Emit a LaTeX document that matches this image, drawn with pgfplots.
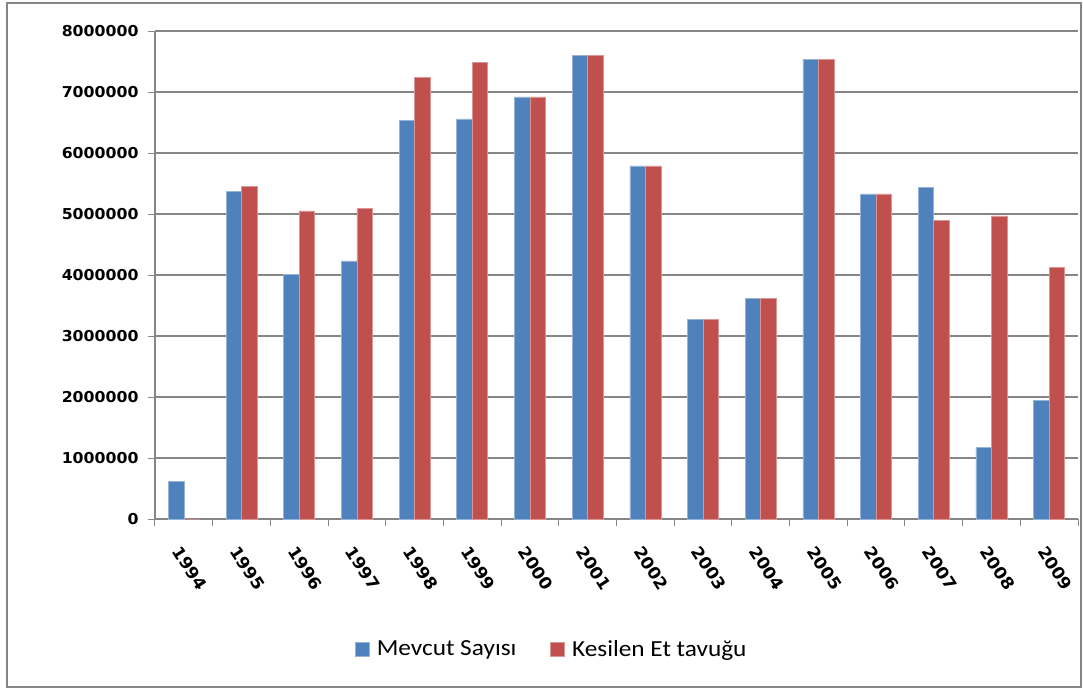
\documentclass[border=0pt]{standalone}
\usepackage{fontspec}
\setmainfont{Carlito}[FakeStretch=1.1]
\newfontfamily\tickfont{DejaVu Sans}[FakeStretch=1.05]
\usepackage{pgfplots}
\pgfplotsset{compat=1.18}
\definecolor{cblue}{RGB}{79,129,189}
\definecolor{cred}{RGB}{192,80,77}
\definecolor{gridgray}{RGB}{134,134,134}
\begin{document}
\begin{tikzpicture}
\begin{axis}[
  name=ax,
  scale only axis,
  width=923pt, height=488pt,
  ybar=0pt, bar width=15.5pt,
  xmin=-0.5, xmax=15.5,
  ymin=0, ymax=8000000,
  ytick={0,1000000,2000000,3000000,4000000,5000000,6000000,7000000,8000000},
  scaled y ticks=false,
  yticklabel={\pgfmathprintnumber[fixed,precision=0,1000 sep={}]{\tick}},
  /pgf/number format/assume math mode=true,
  xtick={0,...,15},
  xticklabels={1994,1995,1996,1997,1998,1999,2000,2001,2002,2003,2004,2005,2006,2007,2008,2009},
  minor xtick={-0.5,0.5,...,15.5},
  major x tick style={draw=none},
  minor x tick style={gridgray, line width=1pt},
  y tick style={gridgray, line width=1pt},
  tick align=outside,
  major tick length=7pt, minor tick length=7pt,
  axis x line*=bottom, axis y line*=left,
  axis line style={gridgray, line width=1.2pt},
  ymajorgrids, grid style={gridgray, line width=1.3pt},
  yticklabel style={font=\tickfont\bfseries\fontsize{15}{18}\selectfont, xshift=-6pt},
  xticklabel style={font=\tickfont\bfseries\fontsize{16.5}{19}\selectfont, xshift=-9pt, yshift=-19pt, rotate=-57, anchor=west},
  legend style={at={(0.43,-0.266)}, anchor=center, draw=none, legend columns=2,
    font=\fontsize{23}{26}\selectfont,
    /tikz/every odd column/.append style={column sep=5pt},
    /tikz/every even column/.append style={column sep=32pt}},
  legend image code/.code={\fill[#1] (0pt,-7pt) rectangle (14pt,7pt);},
  clip=false,
]
\addplot[fill=cblue, draw=cblue!60!white, line width=0.6pt] coordinates {
(0,610000) (1,5370000) (2,4010000) (3,4230000) (4,6537000) (5,6560000) (6,6920000) (7,7600000)
(8,5790000) (9,3270000) (10,3610000) (11,7535000) (12,5330000) (13,5430000) (14,1170000) (15,1950000)};
\addplot[fill=cred, draw=cred!60!white, line width=0.6pt] coordinates {
(0,0) (1,5450000) (2,5050000) (3,5090000) (4,7237000) (5,7490000) (6,6920000) (7,7600000)
(8,5790000) (9,3270000) (10,3610000) (11,7535000) (12,5330000) (13,4890000) (14,4970000) (15,4130000)};
\legend{Mevcut Sayısı, Kesilen Et tavuğu}
\end{axis}
\draw[gridgray, line width=2pt] ([shift={(-148pt,-168pt)}]ax.south west) rectangle ([shift={(926pt,516pt)}]ax.south west);
\path ([shift={(-155pt,-170pt)}]ax.south west) rectangle ([shift={(928pt,519pt)}]ax.south west);
\end{tikzpicture}
\end{document}
